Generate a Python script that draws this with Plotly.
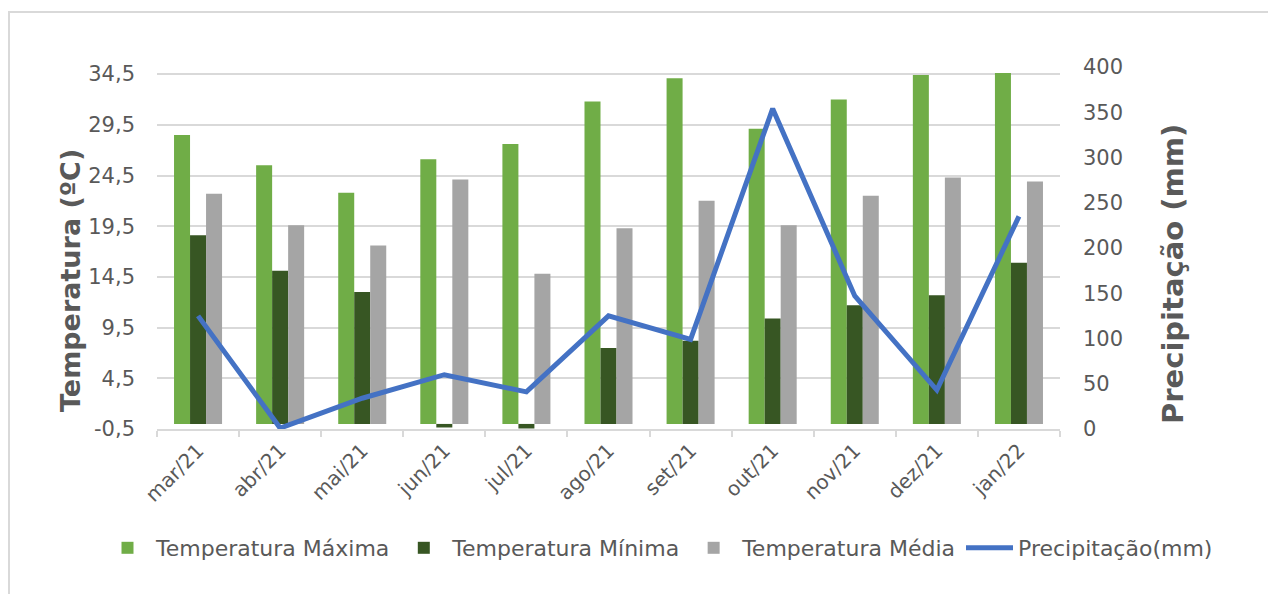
import plotly.graph_objects as go

meses = ["mar/21", "abr/21", "mai/21", "jun/21", "jul/21", "ago/21",
         "set/21", "out/21", "nov/21", "dez/21", "jan/22"]
temp_max = [28.5, 25.5, 22.8, 26.1, 27.6, 31.8, 34.1, 29.1, 32.0, 34.4, 34.6]
temp_min = [18.6, 15.1, 13.0, -0.35, -0.45, 7.5, 8.2, 10.4, 11.7, 12.7, 15.9]
temp_med = [22.7, 19.6, 17.6, 24.1, 14.8, 19.3, 22.0, 19.6, 22.5, 24.3, 23.9]
precip = [125, 1, 34, 60, 41, 125, 99, 354, 147, 43, 235]

left_ticks = [-0.5, 4.5, 9.5, 14.5, 19.5, 24.5, 29.5, 34.5]
left_text = ["-0,5", "4,5", "9,5", "14,5", "19,5", "24,5", "29,5", "34,5"]
right_ticks = [0, 50, 100, 150, 200, 250, 300, 350, 400]

FONT = "DejaVu Sans, Liberation Sans, Arial, sans-serif"
GREY = "#595959"

fig = go.Figure()
fig.add_trace(go.Bar(x=meses, y=temp_max, name="Temperatura Máxima",
                     marker=dict(color="#70ad47", line=dict(width=0))))
fig.add_trace(go.Bar(x=meses, y=temp_min, name="Temperatura Mínima",
                     marker=dict(color="#375623", line=dict(width=0))))
fig.add_trace(go.Bar(x=meses, y=temp_med, name="Temperatura Média",
                     marker=dict(color="#a5a5a5", line=dict(width=0))))
fig.add_trace(go.Scatter(x=meses, y=precip, name="Precipitação(mm)", yaxis="y2",
                         mode="lines", line=dict(color="#4472c4", width=5)))

OFF = 8  # page body margin
SL, SR, ST, SB = 157, 1060, 67, 429
L, R, T, B = SL - OFF, SR - OFF, ST - OFF, SB - OFF
W, H = 1276, 594

def px(x):
    return (x - SL) / (SR - SL)

def py(y):
    return (SB - y) / (SB - ST)

fig.update_layout(
    width=W, height=H,
    margin=dict(l=L, r=W - R, t=T, b=H - B, pad=0),
    paper_bgcolor="white", plot_bgcolor="white",
    barmode="group", bargap=0.415, bargroupgap=0,
    font=dict(family=FONT, color=GREY, size=20),
    showlegend=True,
    legend=dict(orientation="h", x=px(1218), xanchor="right", y=py(548), yanchor="middle",
                font=dict(size=22, color=GREY), traceorder="normal",
                itemwidth=47, tracegroupgap=0, borderwidth=0),
    xaxis=dict(showgrid=False, showline=True, linecolor="#d9d9d9", linewidth=2,
               ticks="outside", tickson="boundaries", ticklen=6, tickcolor="#d9d9d9",
               tickwidth=2, tickangle=-45, tickfont=dict(size=20, color=GREY)),
    yaxis=dict(range=[-0.5, 35.2], tickvals=left_ticks, ticktext=left_text,
               showgrid=True, gridcolor="#d9d9d9", gridwidth=2, zeroline=False,
               showline=False, ticks="", ticklabelstandoff=21,
               tickfont=dict(size=21, color=GREY)),
    yaxis2=dict(range=[0, 400], tickvals=right_ticks, overlaying="y", side="right",
                showgrid=False, zeroline=False, showline=False, ticks="",
                ticklabelstandoff=22, tickfont=dict(size=21, color=GREY)),
    annotations=[
        dict(text="<b>Temperatura (ºC)</b>", xref="paper", yref="paper",
             x=px(70), y=py(281), xanchor="center", yanchor="middle",
             textangle=-90, showarrow=False, font=dict(size=27, color=GREY)),
        dict(text="<b>Precipitação (mm)</b>", xref="paper", yref="paper",
             x=px(1173), y=py(274), xanchor="center", yanchor="middle",
             textangle=-90, showarrow=False, font=dict(size=29, color=GREY)),
    ],
    shapes=[dict(type="rect", xref="paper", yref="paper",
                 x0=px(9), x1=px(1300), y0=py(620), y1=py(12),
                 line=dict(color="#d9d9d9", width=2), fillcolor="rgba(0,0,0,0)", layer="below")],
)

fig.write_html("out.html")
